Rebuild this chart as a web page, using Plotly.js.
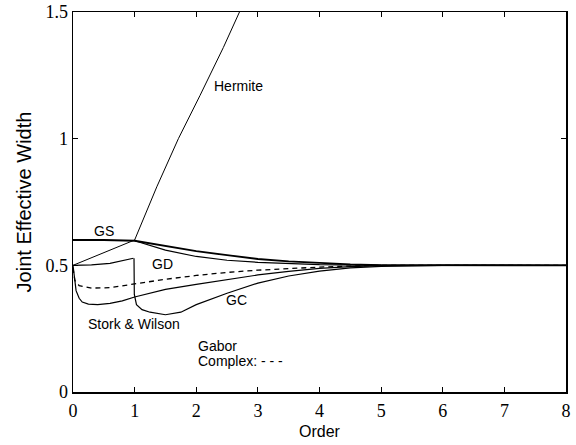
<!DOCTYPE html>
<html><head><meta charset="utf-8">
<script src="https://cdn.plot.ly/plotly-3.0.1.min.js"></script>
<style>html,body{margin:0;padding:0;background:#fff}</style>
</head><body><div id="chart" style="width:576px;height:445px"></div>
<script>
// Data (order vs joint effective width)
const hermiteX = [0, 1, 1.36, 1.71, 2.06, 2.44, 2.72];
const hermiteY = [0.5, 0.6, 0.81, 1.0, 1.17, 1.36, 1.51];

const gsX = [0, 0.5, 1, 1.5, 2, 2.5, 3, 3.5, 4, 4.5, 5, 6, 7, 8];
const gsY = [0.6, 0.6, 0.597, 0.575, 0.556, 0.54, 0.525, 0.516, 0.509, 0.504, 0.501, 0.5, 0.5, 0.5];

const gdX = [0, 0.3, 0.6, 0.85, 0.98];
const gdY = [0.5, 0.502, 0.508, 0.52, 0.528];

const gdUpperX = [1, 1.2, 1.5, 2, 2.5, 3, 3.5, 4, 5];
const gdUpperY = [0.597, 0.583, 0.56, 0.535, 0.52, 0.512, 0.507, 0.503, 0.5];

const gcX = [0.99, 0.995, 1.03, 1.12, 1.25, 1.5, 1.75, 2, 2.5, 3, 3.5, 4, 4.5, 5, 6, 8];
const gcY = [0.528, 0.385, 0.345, 0.325, 0.315, 0.305, 0.315, 0.345, 0.39, 0.43, 0.458, 0.477, 0.49, 0.496, 0.5, 0.5];

const storkX = [0, 0.02, 0.05, 0.1, 0.15, 0.25, 0.4, 0.6, 0.8, 1, 1.5, 2, 2.5, 3, 3.5, 4, 4.5, 5, 6, 8];
const storkY = [0.5, 0.46, 0.4, 0.37, 0.355, 0.347, 0.345, 0.35, 0.36, 0.375, 0.405, 0.425, 0.445, 0.462, 0.476, 0.488, 0.495, 0.499, 0.5, 0.5];

const gaborX = [0, 0.03, 0.1, 0.3, 0.6, 0.95, 1.5, 2, 2.5, 3, 3.5, 4, 4.5, 5, 6, 7, 8];
const gaborY = [0.49, 0.44, 0.42, 0.41, 0.412, 0.425, 0.445, 0.46, 0.472, 0.481, 0.488, 0.493, 0.497, 0.5, 0.5, 0.5, 0.5];

const labelText = ["Hermite", "GS", "GD", "GC", "Stork &amp; Wilson", "Gabor", "Complex: - - -"];
const labelX = [2.68, 0.5, 1.46, 2.66, 0.99, 1.99, 1.99];
const labelY = [1.206, 0.635, 0.505, 0.365, 0.27, 0.18, 0.124];

const xTicks = [0, 1, 2, 3, 4, 5, 6, 7, 8];
const yTicks = [0, 0.5, 1, 1.5];

const line = (x, y, w, dash) => ({
  x: x, y: y, type: 'scatter', mode: 'lines', showlegend: false, hoverinfo: 'skip',
  line: {color: '#000', width: w, dash: dash || 'solid'}
});

const data = [
  line(hermiteX, hermiteY, 1),
  line(gsX, gsY, 1.8),
  line(gdX, gdY, 1.2),
  line(gdUpperX, gdUpperY, 1.2),
  line(gcX, gcY, 1.2),
  line(storkX, storkY, 1.2),
  line(gaborX, gaborY, 1.3, '5px,4px')
];

const annotations = labelText.map((t, i) => ({
  x: labelX[i], y: labelY[i], xref: 'x', yref: 'y', text: t, showarrow: false,
  xanchor: i >= 5 ? 'left' : 'center', yanchor: 'middle',
  font: {family: 'Liberation Sans, Arial, sans-serif', size: 14, color: '#000'}
}));

const axisCommon = {
  showgrid: false, zeroline: false, showline: true, linecolor: '#000', linewidth: 1.5,
  mirror: 'ticks', ticks: 'inside', ticklen: 5, tickwidth: 1, tickcolor: '#000',
  tickfont: {family: 'Liberation Serif, Times New Roman, serif', size: 18, color: '#000'}
};

const layout = {
  width: 576, height: 445,
  margin: {l: 73, r: 10, t: 12, b: 53},
  paper_bgcolor: '#fff', plot_bgcolor: '#fff',
  xaxis: Object.assign({}, axisCommon, {
    range: [0, 8], tickvals: xTicks, ticktext: xTicks.map(String), ticklabelstandoff: 2,
    title: {text: 'Order', standoff: 5, font: {family: 'Liberation Sans, Arial, sans-serif', size: 16, color: '#000'}}
  }),
  yaxis: Object.assign({}, axisCommon, {
    range: [0, 1.5], tickvals: yTicks, ticktext: yTicks.map(String), ticklabelstandoff: 0,
    title: {text: 'Joint Effective Width', standoff: 8, font: {family: 'Liberation Sans, Arial, sans-serif', size: 20, color: '#000'}}
  }),
  annotations: annotations
};

Plotly.newPlot('chart', data, layout, {displayModeBar: false, staticPlot: true});
</script></body></html>
